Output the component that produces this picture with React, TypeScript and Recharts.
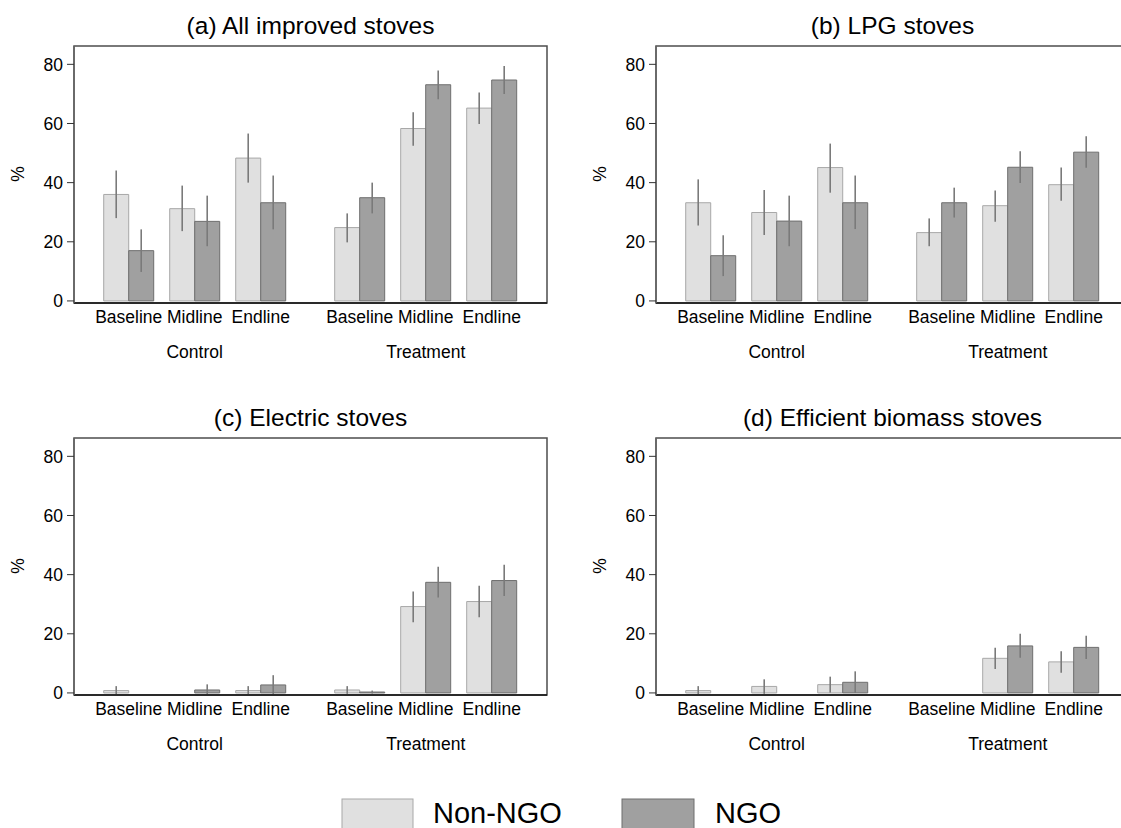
import React from 'react';
import { BarChart, Bar, XAxis, YAxis, ErrorBar, ReferenceArea } from 'recharts';

// ---------- categories / labels ----------
const positions = [0, 1, 2, 3.5, 4.5, 5.5];
const waveLabels = ['Baseline', 'Midline', 'Endline', 'Baseline', 'Midline', 'Endline'];
const groupPositions = [1, 4.5];
const groupLabels = ['Control', 'Treatment'];
const yTicks = [0, 20, 40, 60, 80];
const seriesNames = ['Non-NGO', 'NGO'];
const panelTitles = [
  '(a) All improved stoves',
  '(b) LPG stoves',
  '(c) Electric stoves',
  '(d) Efficient biomass stoves',
];

// ---------- (a) All improved stoves ----------
const allNonNgo = [36.0, 31.2, 48.3, 24.8, 58.3, 65.2];
const allNonNgoLow = [28.0, 23.6, 40.0, 19.8, 52.5, 59.8];
const allNonNgoHigh = [44.1, 39.0, 56.6, 29.6, 63.8, 70.5];
const allNgo = [17.0, 26.9, 33.2, 34.9, 73.1, 74.7];
const allNgoLow = [9.8, 18.5, 24.2, 29.6, 68.2, 70.0];
const allNgoHigh = [24.2, 35.6, 42.4, 40.0, 77.9, 79.4];

// ---------- (b) LPG stoves ----------
const lpgNonNgo = [33.2, 29.9, 45.1, 23.1, 32.2, 39.3];
const lpgNonNgoLow = [25.5, 22.3, 36.6, 18.5, 26.8, 33.9];
const lpgNonNgoHigh = [41.1, 37.5, 53.2, 27.9, 37.3, 45.1];
const lpgNgo = [15.3, 27.0, 33.2, 33.2, 45.2, 50.3];
const lpgNgoLow = [8.4, 18.5, 24.3, 28.2, 39.9, 45.0];
const lpgNgoHigh = [22.2, 35.6, 42.4, 38.3, 50.6, 55.7];

// ---------- (c) Electric stoves ----------
const elecNonNgo = [0.8, null, 0.8, 1.0, 29.2, 30.9];
const elecNonNgoLow = [-0.7, null, -0.7, -0.3, 23.9, 25.6];
const elecNonNgoHigh = [2.3, null, 2.3, 2.3, 34.3, 36.2];
const elecNgo = [null, 1.0, 2.7, 0.3, 37.4, 38.0];
const elecNgoLow = [null, -0.7, -0.6, -0.2, 32.3, 32.8];
const elecNgoHigh = [null, 2.9, 6.0, 0.8, 42.7, 43.3];

// ---------- (d) Efficient biomass stoves ----------
const bioNonNgo = [0.8, 2.2, 2.8, null, 11.7, 10.5];
const bioNonNgoLow = [-0.7, -0.3, 0.1, null, 8.1, 6.8];
const bioNonNgoHigh = [2.3, 4.6, 5.5, null, 15.3, 14.1];
const bioNgo = [null, null, 3.6, null, 15.9, 15.4];
const bioNgoLow = [null, null, 0.0, null, 11.9, 11.5];
const bioNgoHigh = [null, null, 7.3, null, 20.0, 19.3];

type Num = number | null;

function buildRows(v1: Num[], l1: Num[], h1: Num[], v2: Num[], l2: Num[], h2: Num[]) {
  return positions.map((p, i) => ({
    pos: p,
    nonNgo: v1[i],
    ngo: v2[i],
    nonNgoErr: v1[i] == null ? null : [(v1[i] as number) - (l1[i] as number), (h1[i] as number) - (v1[i] as number)],
    ngoErr: v2[i] == null ? null : [(v2[i] as number) - (l2[i] as number), (h2[i] as number) - (v2[i] as number)],
  }));
}

const panels = [
  { title: panelTitles[0], left: 0, top: 0, data: buildRows(allNonNgo, allNonNgoLow, allNonNgoHigh, allNgo, allNgoLow, allNgoHigh) },
  { title: panelTitles[1], left: 582, top: 0, data: buildRows(lpgNonNgo, lpgNonNgoLow, lpgNonNgoHigh, lpgNgo, lpgNgoLow, lpgNgoHigh) },
  { title: panelTitles[2], left: 0, top: 392, data: buildRows(elecNonNgo, elecNonNgoLow, elecNonNgoHigh, elecNgo, elecNgoLow, elecNgoHigh) },
  { title: panelTitles[3], left: 582, top: 392, data: buildRows(bioNonNgo, bioNonNgoLow, bioNonNgoHigh, bioNgo, bioNgoLow, bioNgoHigh) },
];

const X_MIN = -0.829;
const X_MAX = 6.338;
const Y_MIN = -0.7;
const Y_MAX = 86.2;
const FONT = '"Liberation Sans", Arial, sans-serif';
const LIGHT = '#e0e0e0';
const LIGHT_STROKE = '#a8a8a8';
const DARK = '#a0a0a0';
const DARK_STROKE = '#6e6e6e';
const ERR = '#7a7a7a';

const CHART_W = 560;
const CHART_H = 380;
const PLOT_LEFT = 74;
const PLOT_W = 473;
const PLOT_TOP = 46;

const WAVE_AXIS = 'a_wave';
const GROUP_AXIS = 'b_group';

function Panel({ data }: { data: any[] }) {
  return (
    <BarChart
      width={CHART_W}
      height={CHART_H}
      data={data}
      margin={{ top: PLOT_TOP, right: CHART_W - PLOT_LEFT - PLOT_W, bottom: 7, left: 0 }}
      barGap={0}
      barCategoryGap={0}
    >
      <XAxis
        xAxisId={WAVE_AXIS}
        type="number"
        dataKey="pos"
        domain={[X_MIN, X_MAX]}
        allowDataOverflow
        ticks={positions}
        interval={0}
        tickFormatter={(v: number) => waveLabels[positions.indexOf(v)] ?? ''}
        tickLine={false}
        tickSize={0}
        tickMargin={8}
        height={30}
        axisLine={{ stroke: '#111', strokeWidth: 1.5 }}
        tick={{ fill: '#000', fontSize: 17.5, fontFamily: FONT }}
      />
      <XAxis
        xAxisId={GROUP_AXIS}
        type="number"
        dataKey="pos"
        domain={[X_MIN, X_MAX]}
        allowDataOverflow
        ticks={groupPositions}
        interval={0}
        tickFormatter={(v: number) => groupLabels[groupPositions.indexOf(v)] ?? ''}
        tickLine={false}
        axisLine={false}
        tickSize={0}
        tickMargin={13}
        height={40}
        tick={{ fill: '#000', fontSize: 17.5, fontFamily: FONT }}
      />
      <YAxis
        type="number"
        domain={[Y_MIN, Y_MAX]}
        allowDataOverflow
        ticks={yTicks}
        interval={0}
        width={PLOT_LEFT}
        tickSize={7}
        tickMargin={4}
        axisLine={{ stroke: '#666', strokeWidth: 1.5 }}
        tickLine={{ stroke: '#333', strokeWidth: 1 }}
        tick={{ fill: '#000', fontSize: 17.5, fontFamily: FONT }}
      />
      <ReferenceArea
        xAxisId={WAVE_AXIS}
        x1={X_MIN}
        x2={X_MAX}
        y1={Y_MIN}
        y2={Y_MAX}
        ifOverflow="visible"
        fill="none"
        fillOpacity={0}
        stroke="#4d4d4d"
        strokeWidth={1.5}
      />
      <Bar xAxisId={WAVE_AXIS} dataKey="nonNgo" name={seriesNames[0]} barSize={25} fill={LIGHT} stroke={LIGHT_STROKE} strokeWidth={1} isAnimationActive={false}>
        <ErrorBar dataKey="nonNgoErr" width={0} stroke={ERR} strokeWidth={1.6} direction="y" />
      </Bar>
      <Bar xAxisId={WAVE_AXIS} dataKey="ngo" name={seriesNames[1]} barSize={25} fill={DARK} stroke={DARK_STROKE} strokeWidth={1} isAnimationActive={false}>
        <ErrorBar dataKey="ngoErr" width={0} stroke={ERR} strokeWidth={1.6} direction="y" />
      </Bar>
    </BarChart>
  );
}

export default function App() {
  return (
    <div
      style={{
        position: 'absolute',
        left: 0,
        top: 0,
        width: 1121,
        height: 828,
        overflow: 'hidden',
        background: '#fff',
        fontFamily: FONT,
      }}
    >
      {panels.map((p, i) => (
        <div key={i} style={{ position: 'absolute', left: p.left, top: p.top, width: CHART_W, height: CHART_H }}>
          <Panel data={p.data} />
        </div>
      ))}
      <svg
        width={1121}
        height={828}
        style={{ position: 'absolute', left: 0, top: 0, pointerEvents: 'none' }}
        fontFamily={FONT}
      >
        {panels.map((p, i) => (
          <g key={i}>
            <text
              x={p.left + PLOT_LEFT + PLOT_W / 2}
              y={p.top + 34}
              textAnchor="middle"
              fontSize={24.5}
              fill="#000"
            >
              {p.title}
            </text>
            <text
              x={p.left + 18}
              y={p.top + 174}
              textAnchor="middle"
              dominantBaseline="central"
              fontSize={17.5}
              fill="#000"
              transform={`rotate(-90, ${p.left + 18}, ${p.top + 174})`}
            >
              %
            </text>
          </g>
        ))}
        <rect x={342} y={799} width={71} height={40} fill={LIGHT} stroke={LIGHT_STROKE} strokeWidth={1} />
        <text x={433} y={823} fontSize={29} fill="#000">{seriesNames[0]}</text>
        <rect x={622} y={799} width={72} height={40} fill={DARK} stroke={DARK_STROKE} strokeWidth={1} />
        <text x={715} y={823} fontSize={29} fill="#000">{seriesNames[1]}</text>
      </svg>
    </div>
  );
}
